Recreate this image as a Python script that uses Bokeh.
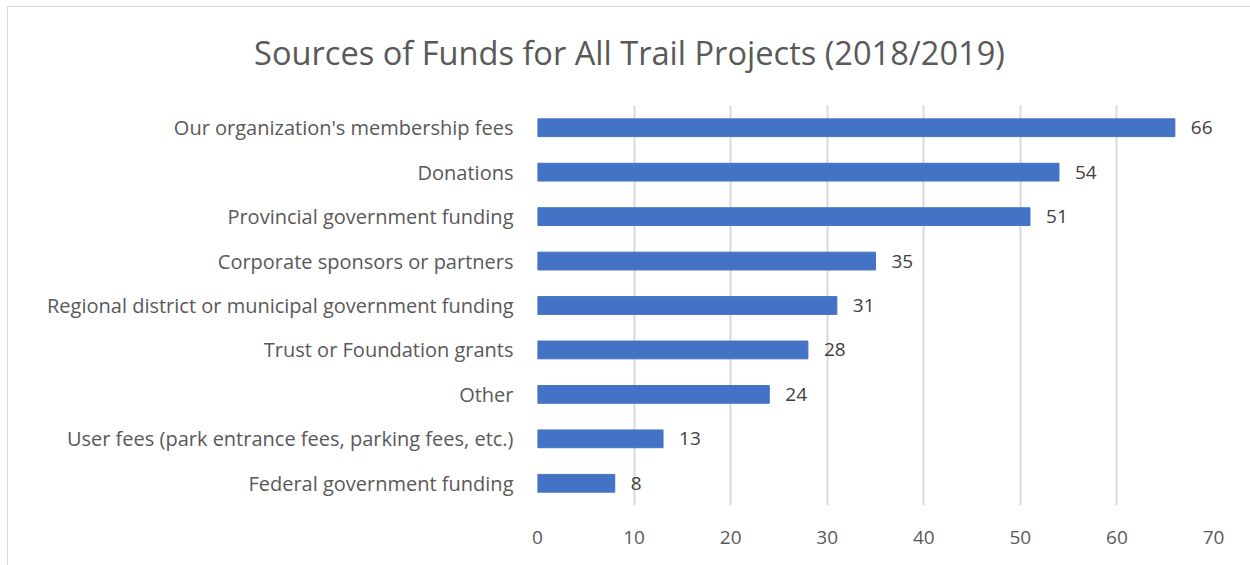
from bokeh.plotting import figure
from bokeh.models import FactorRange, Range1d, ColumnDataSource, FixedTicker, Div
from bokeh.layouts import column
from bokeh.core.properties import value
from bokeh.embed import file_html
from bokeh.resources import INLINE

title = "Sources of Funds for All Trail Projects (2018/2019)"
categories = [
    "Our organization's membership fees",
    "Donations",
    "Provincial government funding",
    "Corporate sponsors or partners",
    "Regional district or municipal government funding",
    "Trust or Foundation grants",
    "Other",
    "User fees (park entrance fees, parking fees, etc.)",
    "Federal government funding",
]
values = [66, 54, 51, 35, 31, 28, 24, 13, 8]
x_ticks = [0, 10, 20, 30, 40, 50, 60, 70]

FONT = "Open Sans"
W, H = 1243, 559
TH = 86

src = ColumnDataSource(dict(cat=categories, val=values, lab=[str(v) for v in values]))

head = Div(text=title, width=W, height=TH, margin=0,
           styles={"font-family": FONT, "font-size": "32.6px", "color": "#595959",
                   "text-align": "center", "line-height": f"{TH}px", "padding-top": "3px",
                   "box-sizing": "border-box", "width": f"{W}px",
                   "white-space": "nowrap", "background": "white"})

p = figure(width=W, height=H - TH, output_backend="svg", toolbar_location=None,
           y_range=FactorRange(*categories[::-1], range_padding=0),
           x_range=Range1d(0, 70), margin=0,
           min_border_left=529, min_border_right=38, min_border_top=98 - TH, min_border_bottom=61)
p.outline_line_color = None

p.hbar(y="cat", right="val", height=0.4, source=src, color="#4472c4")
p.text(x="val", y="cat", text="lab", source=src, x_offset=16, text_baseline="middle",
       text_align="left", text_font=value(FONT), text_font_size="19px", text_color="#404040")

p.xgrid.grid_line_color = "#d9d9d9"
p.xgrid.grid_line_width = 2
p.ygrid.grid_line_color = None
p.xaxis.ticker = FixedTicker(ticks=x_ticks)
for ax in (p.xaxis[0], p.yaxis[0]):
    ax.axis_line_color = None
    ax.major_tick_line_color = None
    ax.minor_tick_line_color = None
    ax.major_label_text_font = FONT
    ax.major_label_text_color = "#595959"
p.xaxis.major_label_text_font_size = "19px"
p.yaxis.major_label_text_font_size = "20px"
p.xaxis.major_label_standoff = 19
p.yaxis.major_label_standoff = 18

layout = column(head, p, spacing=0,
                styles={"border": "1px solid #d9d9d9", "margin-left": "7px", "margin-top": "6px",
                        "background": "white"})

open("out.html", "w").write(file_html(layout, INLINE))
